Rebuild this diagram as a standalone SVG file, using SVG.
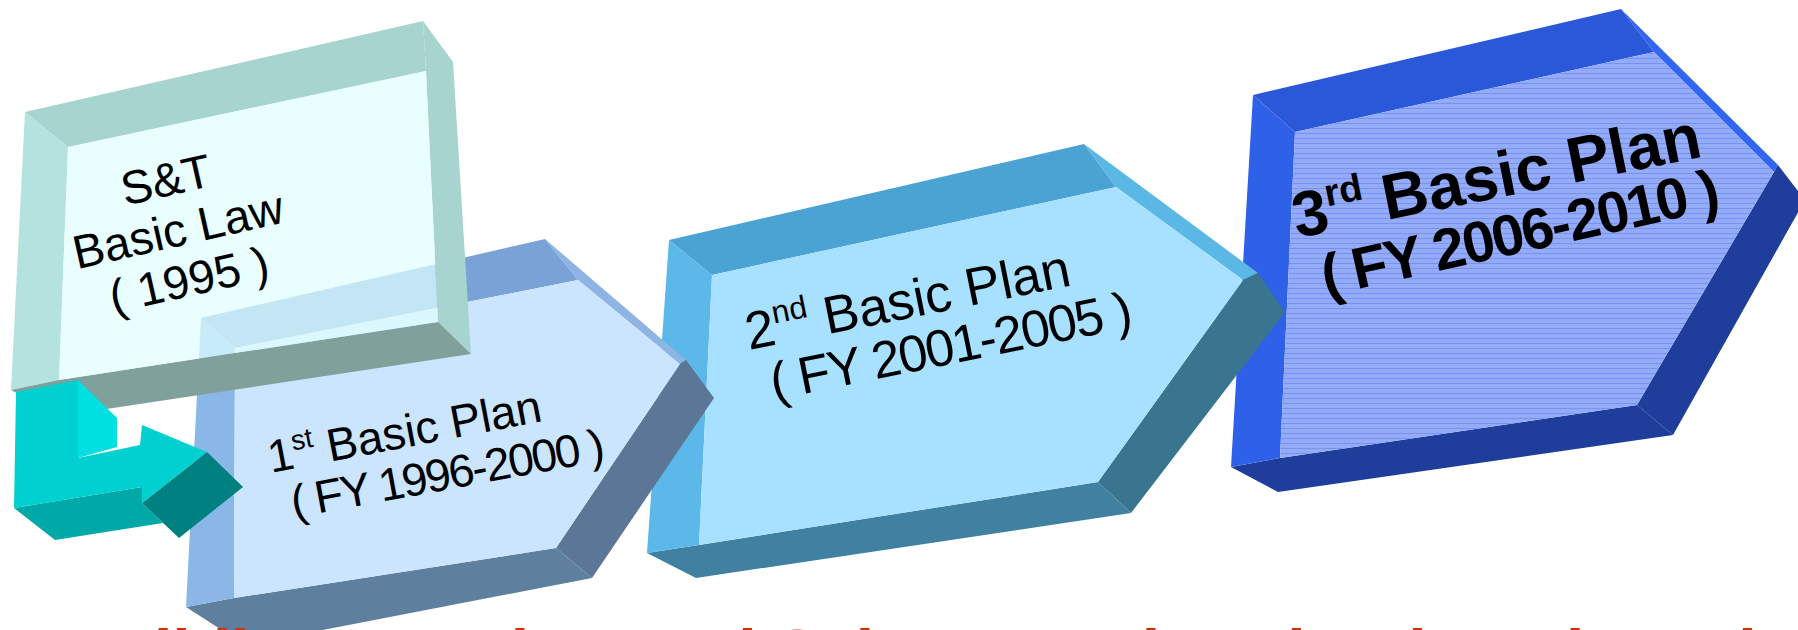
<svg xmlns="http://www.w3.org/2000/svg" width="1798" height="630" viewBox="0 0 1798 630">
<defs>
<pattern id="stripe" patternUnits="userSpaceOnUse" width="6" height="5">
<rect width="6" height="5" fill="#94ABF7"/>
<rect y="3" width="6" height="1" fill="#7792F0"/>
</pattern>
</defs>
<style>
.t{font-family:"Liberation Sans",Arial,sans-serif;fill:#000}
.b{font-weight:bold}
</style>
<rect width="1798" height="630" fill="#fff"/>

<g id="plan3">
<polygon points="1253,95 1621,9 1654,52 1295,132" fill="#2A58D8"/>
<polygon points="1621,9 1778,165 1774,172 1654,52" fill="#3366EE"/>
<polygon points="1778,165 1805,200 1673,435 1637,405 1774,172" fill="#1F3E9C"/>
<polygon points="1280,458 1637,405 1673,435 1278,492 1231,467" fill="#1F3E9C"/>
<polygon points="1253,95 1295,132 1280,458 1231,467" fill="#2F60E8"/>
<polygon points="1295,132 1654,52 1774,172 1637,405 1280,458" fill="url(#stripe)"/>
<text class="t b" font-size="64" transform="translate(1297,238) rotate(-11.3)">3<tspan font-size="38" dy="-25">rd</tspan><tspan dy="25"> Basic Plan</tspan></text>
<text class="t b" font-size="58" transform="translate(1326,296) rotate(-12.5)" textLength="406" lengthAdjust="spacing">( FY 2006-2010 )</text>
</g>

<g id="plan2">
<polygon points="669,240 1084,144 1116,187 712,275" fill="#4BA3D3"/>
<polygon points="1084,144 1258,273 1243,280 1116,187" fill="#5BB8E5"/>
<polygon points="1258,273 1285,312 1131,513 1098,482 1243,280" fill="#3A758F"/>
<polygon points="699,545 1098,482 1131,513 696,578 647,553" fill="#4080A0"/>
<polygon points="669,240 712,275 699,545 647,553" fill="#5BB8E8"/>
<polygon points="712,275 1116,187 1243,280 1098,482 699,545" fill="#A8E0FF"/>
<text class="t" font-size="53" transform="translate(749,350) rotate(-11.3)">2<tspan font-size="32" dy="-21">nd</tspan><tspan dy="21"> Basic Plan</tspan></text>
<text class="t" font-size="52" transform="translate(774,400) rotate(-11.5)" textLength="368" lengthAdjust="spacing">( FY 2001-2005 )</text>
</g>

<g id="plan1">
<polygon points="201,318 545,239 578,280 235,348" fill="#7BA2D6"/>
<polygon points="545,239 686,360 680,364 578,280" fill="#8DB4E2"/>
<polygon points="686,360 714,398 592,578 556,548 680,364" fill="#5B7696"/>
<polygon points="234,598 556,548 592,578 245,645 186,607" fill="#5F7F9F"/>
<polygon points="201,318 235,348 234,598 186,607" fill="#8AB6E8"/>
<polygon points="235,348 578,280 680,364 556,548 234,598" fill="#CCE5FF"/>
<text class="t" font-size="46" transform="translate(271,473) rotate(-10.8)">1<tspan font-size="28" dy="-18">st</tspan><tspan dy="18"> Basic Plan</tspan></text>
<text class="t" font-size="46" transform="translate(294,518) rotate(-10.5)" textLength="318" lengthAdjust="spacing">( FY 1996-2000 )</text>
</g>

<g id="law">
<polygon points="25,112 423,21 426,71 68,147" fill="#A8D4D0"/>
<polygon points="423,21 453,62 471,354 438,322 426,71" fill="#A8D4D0"/>
<polygon points="25,112 68,147 59,380 11,390" fill="#B4E2DE"/>
<polygon points="59,380 438,322 471,354 60,416 11,390" fill="#80A09C"/>
<polygon points="68,147 426,71 438,322 59,380" fill="#E0FFFF" fill-opacity="0.72"/>
<text class="t" font-size="47" text-anchor="middle" transform="translate(166,180) rotate(-12.7)" y="16">S&amp;T</text>
<text class="t" font-size="47" text-anchor="middle" transform="translate(178,230) rotate(-12.7)" y="16">Basic Law</text>
<text class="t" font-size="47" text-anchor="middle" transform="translate(189,280) rotate(-12.7)" y="16">( 1995 )</text>
</g>

<g id="connectors">
<polygon points="78,380 117,418 117,447 78,458" fill="#00E0E0"/>
<polygon points="14,508 142,487 142,503 163,523 55,540" fill="#00A8A8"/>
<polygon points="207,452 243,487 179,538 142,503" fill="#008080"/>
<polygon points="16,392 78,380 78,458 140,445 142,425 207,452 142,503 142,487 14,508" fill="#00D0D0"/>
</g>

<text class="t b" font-size="66" x="66" y="676" style="fill:#CC3300">Building an Advanced Science and Technology-based</text>
</svg>
